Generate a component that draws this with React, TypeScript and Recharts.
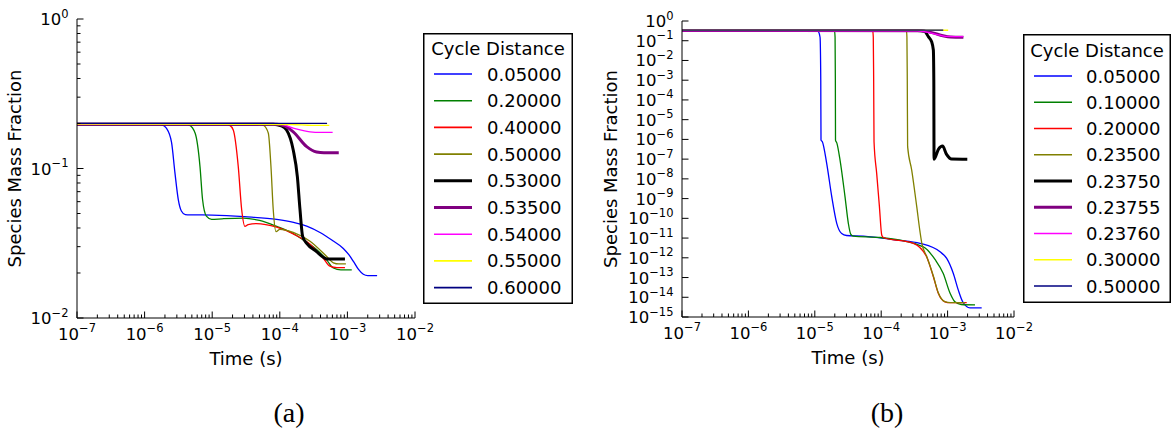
import React from 'react';
import { LineChart, Line, XAxis, YAxis, Legend } from 'recharts';

type Pt = [number, number];

const FONT = '"DejaVu Sans", Verdana, sans-serif';
const SERIF = '"Liberation Serif", "Times New Roman", serif';

// Legend entries (cycle distance) for the two panels
const distancesA = ['0.05000', '0.20000', '0.40000', '0.50000', '0.53000', '0.53500', '0.54000', '0.55000', '0.60000'];
const distancesB = ['0.05000', '0.10000', '0.20000', '0.23500', '0.23750', '0.23755', '0.23760', '0.30000', '0.50000'];

const seriesColors = ['#0000ff', '#008000', '#ff0000', '#808000', '#000000', '#800080', '#ff00ff', '#ffff00', '#000080'];
const seriesWidths = [1.3, 1.3, 1.3, 1.3, 3, 3, 1.3, 1.3, 1.3];
const legendWidths = [1.6, 1.6, 1.6, 1.6, 3, 3, 1.6, 1.6, 1.6];

// ---- Panel (a): species mass fraction vs time, [time s, mass fraction] ----
const a05000: Pt[] = [
  [1e-7, 0.198], [1.5e-6, 0.198], [1.8e-6, 0.196], [2.1e-6, 0.186], [2.5e-6, 0.15], [2.8e-6, 0.095],
  [3.15e-6, 0.062], [3.5e-6, 0.052], [4.0e-6, 0.0492], [5.0e-6, 0.049], [1.0e-5, 0.0488], [3.0e-5, 0.0476],
  [9.0e-5, 0.0457], [1.6e-4, 0.0436], [2.5e-4, 0.0412], [4.0e-4, 0.0372], [6.0e-4, 0.033], [8.7e-4, 0.0292],
  [1.05e-3, 0.0265], [1.22e-3, 0.024], [1.45e-3, 0.0212], [1.72e-3, 0.0196], [2.0e-3, 0.0192], [2.75e-3, 0.0192],
];
const a20000: Pt[] = [
  [1e-7, 0.198], [4.0e-6, 0.198], [4.6e-6, 0.195], [5.6e-6, 0.172], [6.6e-6, 0.103], [7.2e-6, 0.062],
  [8.2e-6, 0.048], [9.8e-6, 0.0457], [1.4e-5, 0.0461], [2.9e-5, 0.0466], [5.0e-5, 0.0449], [9.0e-5, 0.041],
  [1.5e-4, 0.0372], [2.2e-4, 0.0334], [3.5e-4, 0.0287], [4.9e-4, 0.0246], [6.2e-4, 0.0216], [8.0e-4, 0.021],
  [1.16e-3, 0.021],
];
const a40000: Pt[] = [
  [1e-7, 0.198], [1.6e-5, 0.198], [1.8e-5, 0.195], [2.05e-5, 0.181], [2.43e-5, 0.103], [2.73e-5, 0.053],
  [3.05e-5, 0.041], [3.4e-5, 0.0422], [4.5e-5, 0.0428], [9.0e-5, 0.0405], [1.58e-4, 0.0365], [2.8e-4, 0.0312],
  [4.4e-4, 0.0251], [5.5e-4, 0.0222], [7.0e-4, 0.0217], [9.2e-4, 0.0217],
];
const a50000: Pt[] = [
  [1e-7, 0.198], [5.0e-5, 0.198], [5.8e-5, 0.194], [6.77e-5, 0.172], [7.4e-5, 0.103], [8.0e-5, 0.053],
  [8.8e-5, 0.0378], [1.0e-4, 0.0392], [1.58e-4, 0.0374], [2.8e-4, 0.0326], [4.94e-4, 0.0258], [6.2e-4, 0.0234],
  [7.5e-4, 0.023], [9.5e-4, 0.023],
];
const a53000: Pt[] = [
  [1e-7, 0.198], [8.0e-5, 0.198], [1.05e-4, 0.193], [1.26e-4, 0.181], [1.58e-4, 0.133], [1.82e-4, 0.088],
  [1.99e-4, 0.053], [2.18e-4, 0.035], [2.5e-4, 0.0316], [3.5e-4, 0.0278], [4.4e-4, 0.0255], [5.0e-4, 0.0248],
  [9.2e-4, 0.0248],
];
const a53500: Pt[] = [
  [1e-7, 0.198], [9.0e-5, 0.198], [1.2e-4, 0.192], [1.58e-4, 0.176], [2.5e-4, 0.14], [3.5e-4, 0.129],
  [4.5e-4, 0.1275], [7.45e-4, 0.1275],
];
const a54000: Pt[] = [[1e-7, 0.198], [1.0e-4, 0.198], [1.58e-4, 0.186], [2.8e-4, 0.176], [4.0e-4, 0.1745], [6.05e-4, 0.1745]];
const a55000: Pt[] = [[1e-7, 0.198], [1.5e-4, 0.197], [3.0e-4, 0.194], [5.4e-4, 0.194]];
const a60000: Pt[] = [[1e-7, 0.2005], [5.0e-4, 0.2005]];

// ---- Panel (b) ----
const b05000: Pt[] = [
  [1e-7, 0.33], [1.0e-5, 0.33], [1.12e-5, 0.3], [1.2e-5, 0.15], [1.23e-5, 1e-3], [1.24e-5, 9.3e-7],
  [1.3e-5, 7.6e-7], [1.51e-5, 6.1e-8], [1.8e-5, 1.26e-9], [2.14e-5, 5.6e-11], [2.54e-5, 1.7e-11],
  [3.0e-5, 1.35e-11], [5.4e-5, 1.26e-11], [1.71e-4, 7.9e-12], [3.84e-4, 5.4e-12], [7.7e-4, 2.0e-12],
  [9.7e-4, 9.3e-13], [1.22e-3, 1.6e-13], [1.45e-3, 2.3e-14], [1.69e-3, 5.9e-15], [2.17e-3, 2.9e-15],
  [3.26e-3, 2.9e-15],
];
const b10000: Pt[] = [
  [1e-7, 0.33], [1.85e-5, 0.33], [1.98e-5, 0.3], [2.02e-5, 0.15], [2.04e-5, 1e-3], [2.05e-5, 9.3e-7],
  [2.15e-5, 6.5e-7], [2.4e-5, 9e-8], [2.85e-5, 1.26e-9], [3.2e-5, 5.6e-11], [3.47e-5, 1.6e-11],
  [3.8e-5, 1.26e-11], [9.6e-5, 1.07e-11], [4.3e-4, 3.6e-12], [6.5e-4, 8e-13], [8.6e-4, 1.6e-13],
  [1.09e-3, 1.6e-14], [1.29e-3, 5.9e-15], [1.6e-3, 4.3e-15], [2.59e-3, 4.1e-15],
];
const b20000: Pt[] = [
  [1e-7, 0.33], [7.0e-5, 0.33], [7.45e-5, 0.3], [7.6e-5, 0.15], [7.7e-5, 1e-3], [7.8e-5, 7.6e-7],
  [8.55e-5, 1.9e-8], [9.4e-5, 3.9e-10], [1.02e-4, 1.4e-11], [1.08e-4, 1.07e-11], [3.05e-4, 5.4e-12],
  [4.84e-4, 1.1e-12], [6.1e-4, 1.1e-13], [7.24e-4, 1.6e-14], [9.1e-4, 5.9e-15], [1.09e-3, 5.3e-15],
  [1.94e-3, 5.3e-15],
];
const b23500: Pt[] = [
  [1e-7, 0.33], [2.25e-4, 0.33], [2.4e-4, 0.3], [2.44e-4, 0.15], [2.47e-4, 1e-3], [2.5e-4, 4.3e-7],
  [2.88e-4, 2.8e-8], [3.43e-4, 3.9e-10], [3.84e-4, 2.1e-11], [4.1e-4, 5.2e-12], [4.84e-4, 1.2e-12],
  [6.1e-4, 1.2e-13], [7.24e-4, 1.7e-14], [9.1e-4, 6.0e-15], [1.1e-3, 5.3e-15], [1.83e-3, 5.3e-15],
];
const b23750: Pt[] = [
  [1e-7, 0.33], [3.5e-4, 0.33], [4.5e-4, 0.3], [5.13e-4, 0.16], [5.75e-4, 0.089], [6.1e-4, 0.034],
  [6.2e-4, 1e-3], [6.25e-4, 1.0e-7], [7.3e-4, 3.2e-7], [8.4e-4, 4.6e-7], [9.6e-4, 1.8e-7],
  [1.15e-3, 1.02e-7], [1.98e-3, 1.0e-7],
];
const b23755: Pt[] = [[1e-7, 0.33], [4.0e-4, 0.32], [6.0e-4, 0.25], [8.5e-4, 0.18], [1.1e-3, 0.155], [1.73e-3, 0.15]];
const b23760: Pt[] = [[1e-7, 0.33], [3.5e-4, 0.32], [5.5e-4, 0.25], [7.7e-4, 0.19], [1.0e-3, 0.165], [1.73e-3, 0.16]];
const b30000: Pt[] = [[1e-7, 0.34], [1.02e-3, 0.34]];
const b50000: Pt[] = [[1e-7, 0.345], [8.6e-4, 0.345]];

const seriesA = [a05000, a20000, a40000, a50000, a53000, a53500, a54000, a55000, a60000];
const seriesB = [b05000, b10000, b20000, b23500, b23750, b23755, b23760, b30000, b50000];

const toRows = (pts: Pt[]) => pts.map(([t, y]) => ({ t, y }));

// Log-axis tick positions: decades plus 2..9 minor ticks
const mantissas = [2, 3, 4, 5, 6, 7, 8, 9];
const decades = (lo: number, hi: number) => {
  const out: number[] = [];
  for (let e = lo; e <= hi; e++) out.push(Math.pow(10, e));
  return out;
};
const minors = (lo: number, hi: number) => {
  const out: number[] = [];
  for (let e = lo; e < hi; e++) mantissas.forEach((m) => out.push(m * Math.pow(10, e)));
  return out;
};

const xTicks = [...decades(-7, -2), ...minors(-7, -2)];
const yTicksA = [...decades(-2, 0), ...minors(-2, 0)];
const yTicksB = decades(-15, 0);

const isDecade = (v: number) => {
  const l = Math.log10(v);
  return Math.abs(l - Math.round(l)) < 1e-6;
};
const expText = (v: number) => {
  const e = Math.round(Math.log10(v));
  return e < 0 ? `\u2212${-e}` : `${e}`;
};

const MAJOR = 6.5;
const MINOR = 3.5;
const BASE_SIZE = 16.5;
const SUP_SIZE = 11.5;
const SUP_RAISE = 7.5;

// DejaVu Sans advance widths (em) for the characters used in exponents
const advance = (s: string, size: number) =>
  s.split('').reduce((w, ch) => w + (ch === '\u2212' ? 0.838 : 0.636), 0) * size;

// "10" with a raised exponent; drawn as two runs so each keeps its own box
const PowerLabel = ({ x, y, anchor, v }: { x: number; y: number; anchor: 'middle' | 'end'; v: number }) => {
  const sup = expText(v);
  const baseW = advance('10', BASE_SIZE);
  const supW = advance(sup, SUP_SIZE);
  const start = anchor === 'end' ? x - baseW - supW : x - (baseW + supW) / 2;
  return (
    <g fontFamily={FONT} fill="#000">
      <text x={start} y={y} fontSize={BASE_SIZE}>
        10
      </text>
      <text x={start + baseW} y={y - SUP_RAISE} fontSize={SUP_SIZE}>
        {sup}
      </text>
    </g>
  );
};

const BottomTick = (p: any) => {
  const major = isDecade(p.payload.value);
  return (
    <g>
      <line x1={p.x} x2={p.x} y1={p.y} y2={p.y - (major ? MAJOR : MINOR)} stroke="#000" strokeWidth={1} />
      {major && <PowerLabel x={p.x} y={p.y + 21.5} anchor="middle" v={p.payload.value} />}
    </g>
  );
};
const TopTick = (p: any) => {
  const major = isDecade(p.payload.value);
  return <line x1={p.x} x2={p.x} y1={p.y} y2={p.y + (major ? MAJOR : MINOR)} stroke="#000" strokeWidth={1} />;
};
const LeftTick = (p: any) => {
  const major = isDecade(p.payload.value);
  return (
    <g>
      <line x1={p.x} x2={p.x + (major ? MAJOR : MINOR)} y1={p.y} y2={p.y} stroke="#000" strokeWidth={1} />
      {major && <PowerLabel x={p.x - 8.5} y={p.y + 6} anchor="end" v={p.payload.value} />}
    </g>
  );
};
const RightTick = (p: any) => {
  const major = isDecade(p.payload.value);
  return <line x1={p.x} x2={p.x - (major ? MAJOR : MINOR)} y1={p.y} y2={p.y} stroke="#000" strokeWidth={1} />;
};

const frame = { stroke: '#000', strokeWidth: 1 };

const timeTitle = (p: any) => {
  const vb = p.viewBox;
  return (
    <text x={vb.x + vb.width / 2} y={vb.y + 46.5} textAnchor="middle" fontFamily={FONT} fontSize={18} fill="#000">
      Time (s)
    </text>
  );
};
const fractionTitle = (baseline: number) => (p: any) => {
  const vb = p.viewBox;
  const cx = vb.x + baseline;
  const cy = vb.y + vb.height / 2;
  return (
    <text x={cx} y={cy} transform={`rotate(-90 ${cx} ${cy})`} textAnchor="middle" fontFamily={FONT} fontSize={18} fill="#000">
      Species Mass Fraction
    </text>
  );
};

type LegendProps = {
  labels: string[];
  w: number;
  h: number;
  titleY: number;
  rowTop: number;
  rowGap: number;
  lineX1: number;
  lineX2: number;
  textX: number;
};
const CycleLegend = ({ labels, w, h, titleY, rowTop, rowGap, lineX1, lineX2, textX }: LegendProps) => (
  <svg width={w} height={h} style={{ display: 'block' }}>
    <rect x={0.75} y={0.75} width={w - 1.5} height={h - 1.5} fill="#fff" stroke="#000" strokeWidth={1.5} />
    <text x={w / 2} y={titleY} textAnchor="middle" fontFamily={FONT} fontSize={18} fill="#000">
      Cycle Distance
    </text>
    {labels.map((lab, i) => {
      const cy = rowTop + i * rowGap;
      return (
        <g key={lab}>
          <line x1={lineX1} x2={lineX2} y1={cy} y2={cy} stroke={seriesColors[i]} strokeWidth={legendWidths[i]} />
          <text x={textX} y={cy + 6.5} fontFamily={FONT} fontSize={18} fill="#000">
            {lab}
          </text>
        </g>
      );
    })}
  </svg>
);

type PanelProps = {
  series: Pt[][];
  labels: string[];
  yDomain: [number, number];
  yTicks: number[];
  width: number;
  top: number;
  right: number;
  axisH: number;
  axisW: number;
  titleBaseline: number;
  legendPos: { left: number; top: number; width: number; height: number };
  legendLayout: Omit<LegendProps, 'labels' | 'w' | 'h'>;
};

const Panel = (p: PanelProps) => (
  <LineChart width={p.width} height={433} margin={{ top: p.top, right: p.right, bottom: 0, left: 0 }}>
    <XAxis
      xAxisId="b"
      dataKey="t"
      type="number"
      scale="log"
      domain={[1e-7, 1e-2]}
      allowDataOverflow
      ticks={xTicks}
      interval={0}
      tickSize={0}
      tickMargin={0}
      tickLine={false}
      axisLine={frame}
      tick={BottomTick}
      height={p.axisH}
      label={timeTitle}
    />
    <XAxis
      xAxisId="t"
      orientation="top"
      type="number"
      scale="log"
      domain={[1e-7, 1e-2]}
      allowDataOverflow
      ticks={xTicks}
      interval={0}
      tickSize={0}
      tickMargin={0}
      tickLine={false}
      axisLine={frame}
      tick={TopTick}
      height={0}
    />
    <YAxis
      yAxisId="l"
      type="number"
      scale="log"
      domain={p.yDomain}
      allowDataOverflow
      ticks={p.yTicks}
      interval={0}
      tickSize={0}
      tickMargin={0}
      tickLine={false}
      axisLine={frame}
      tick={LeftTick}
      width={p.axisW}
      label={fractionTitle(p.titleBaseline)}
    />
    <YAxis
      yAxisId="r"
      orientation="right"
      type="number"
      scale="log"
      domain={p.yDomain}
      allowDataOverflow
      ticks={p.yTicks}
      interval={0}
      tickSize={0}
      tickMargin={0}
      tickLine={false}
      axisLine={frame}
      tick={RightTick}
      width={0}
    />
    {p.series.map((pts, i) => (
      <Line
        key={p.labels[i]}
        xAxisId="b"
        yAxisId="l"
        data={toRows(pts)}
        dataKey="y"
        name={p.labels[i]}
        type="monotone"
        stroke={seriesColors[i]}
        strokeWidth={seriesWidths[i]}
        dot={false}
        activeDot={false}
        isAnimationActive={false}
      />
    ))}
    <Legend
      layout="vertical"
      align="center"
      verticalAlign="middle"
      wrapperStyle={{ ...p.legendPos }}
      content={() => (
        <CycleLegend labels={p.labels} w={p.legendPos.width} h={p.legendPos.height} {...p.legendLayout} />
      )}
    />
  </LineChart>
);

export default function App() {
  return (
    <div style={{ position: 'absolute', left: 0, top: 0, width: 1172, height: 433, background: '#fff', overflow: 'hidden' }}>
      <div style={{ position: 'absolute', left: 0, top: 0 }}>
        <Panel
          series={seriesA}
          labels={distancesA}
          yDomain={[1e-2, 1]}
          yTicks={yTicksA}
          width={590}
          top={19}
          right={175}
          axisH={115}
          axisW={77}
          titleBaseline={20.5}
          legendPos={{ left: 423, top: 33, width: 150, height: 271 }}
          legendLayout={{ titleY: 21.5, rowTop: 41, rowGap: 26.7, lineX1: 11, lineX2: 49, textX: 64 }}
        />
      </div>
      <div style={{ position: 'absolute', left: 590, top: 0 }}>
        <Panel
          series={seriesB}
          labels={distancesB}
          yDomain={[1e-15, 1]}
          yTicks={yTicksB}
          width={582}
          top={21}
          right={158}
          axisH={116}
          axisW={92}
          titleBaseline={27}
          legendPos={{ left: 433, top: 34, width: 148, height: 269 }}
          legendLayout={{ titleY: 22.5, rowTop: 42, rowGap: 26.25, lineX1: 11, lineX2: 49, textX: 63 }}
        />
      </div>
      <div style={{ position: 'absolute', left: 239, top: 397, width: 100, textAlign: 'center', fontFamily: SERIF, fontSize: 28, lineHeight: '32px', color: '#000' }}>
        (a)
      </div>
      <div style={{ position: 'absolute', left: 837, top: 397, width: 100, textAlign: 'center', fontFamily: SERIF, fontSize: 28, lineHeight: '32px', color: '#000' }}>
        (b)
      </div>
    </div>
  );
}
